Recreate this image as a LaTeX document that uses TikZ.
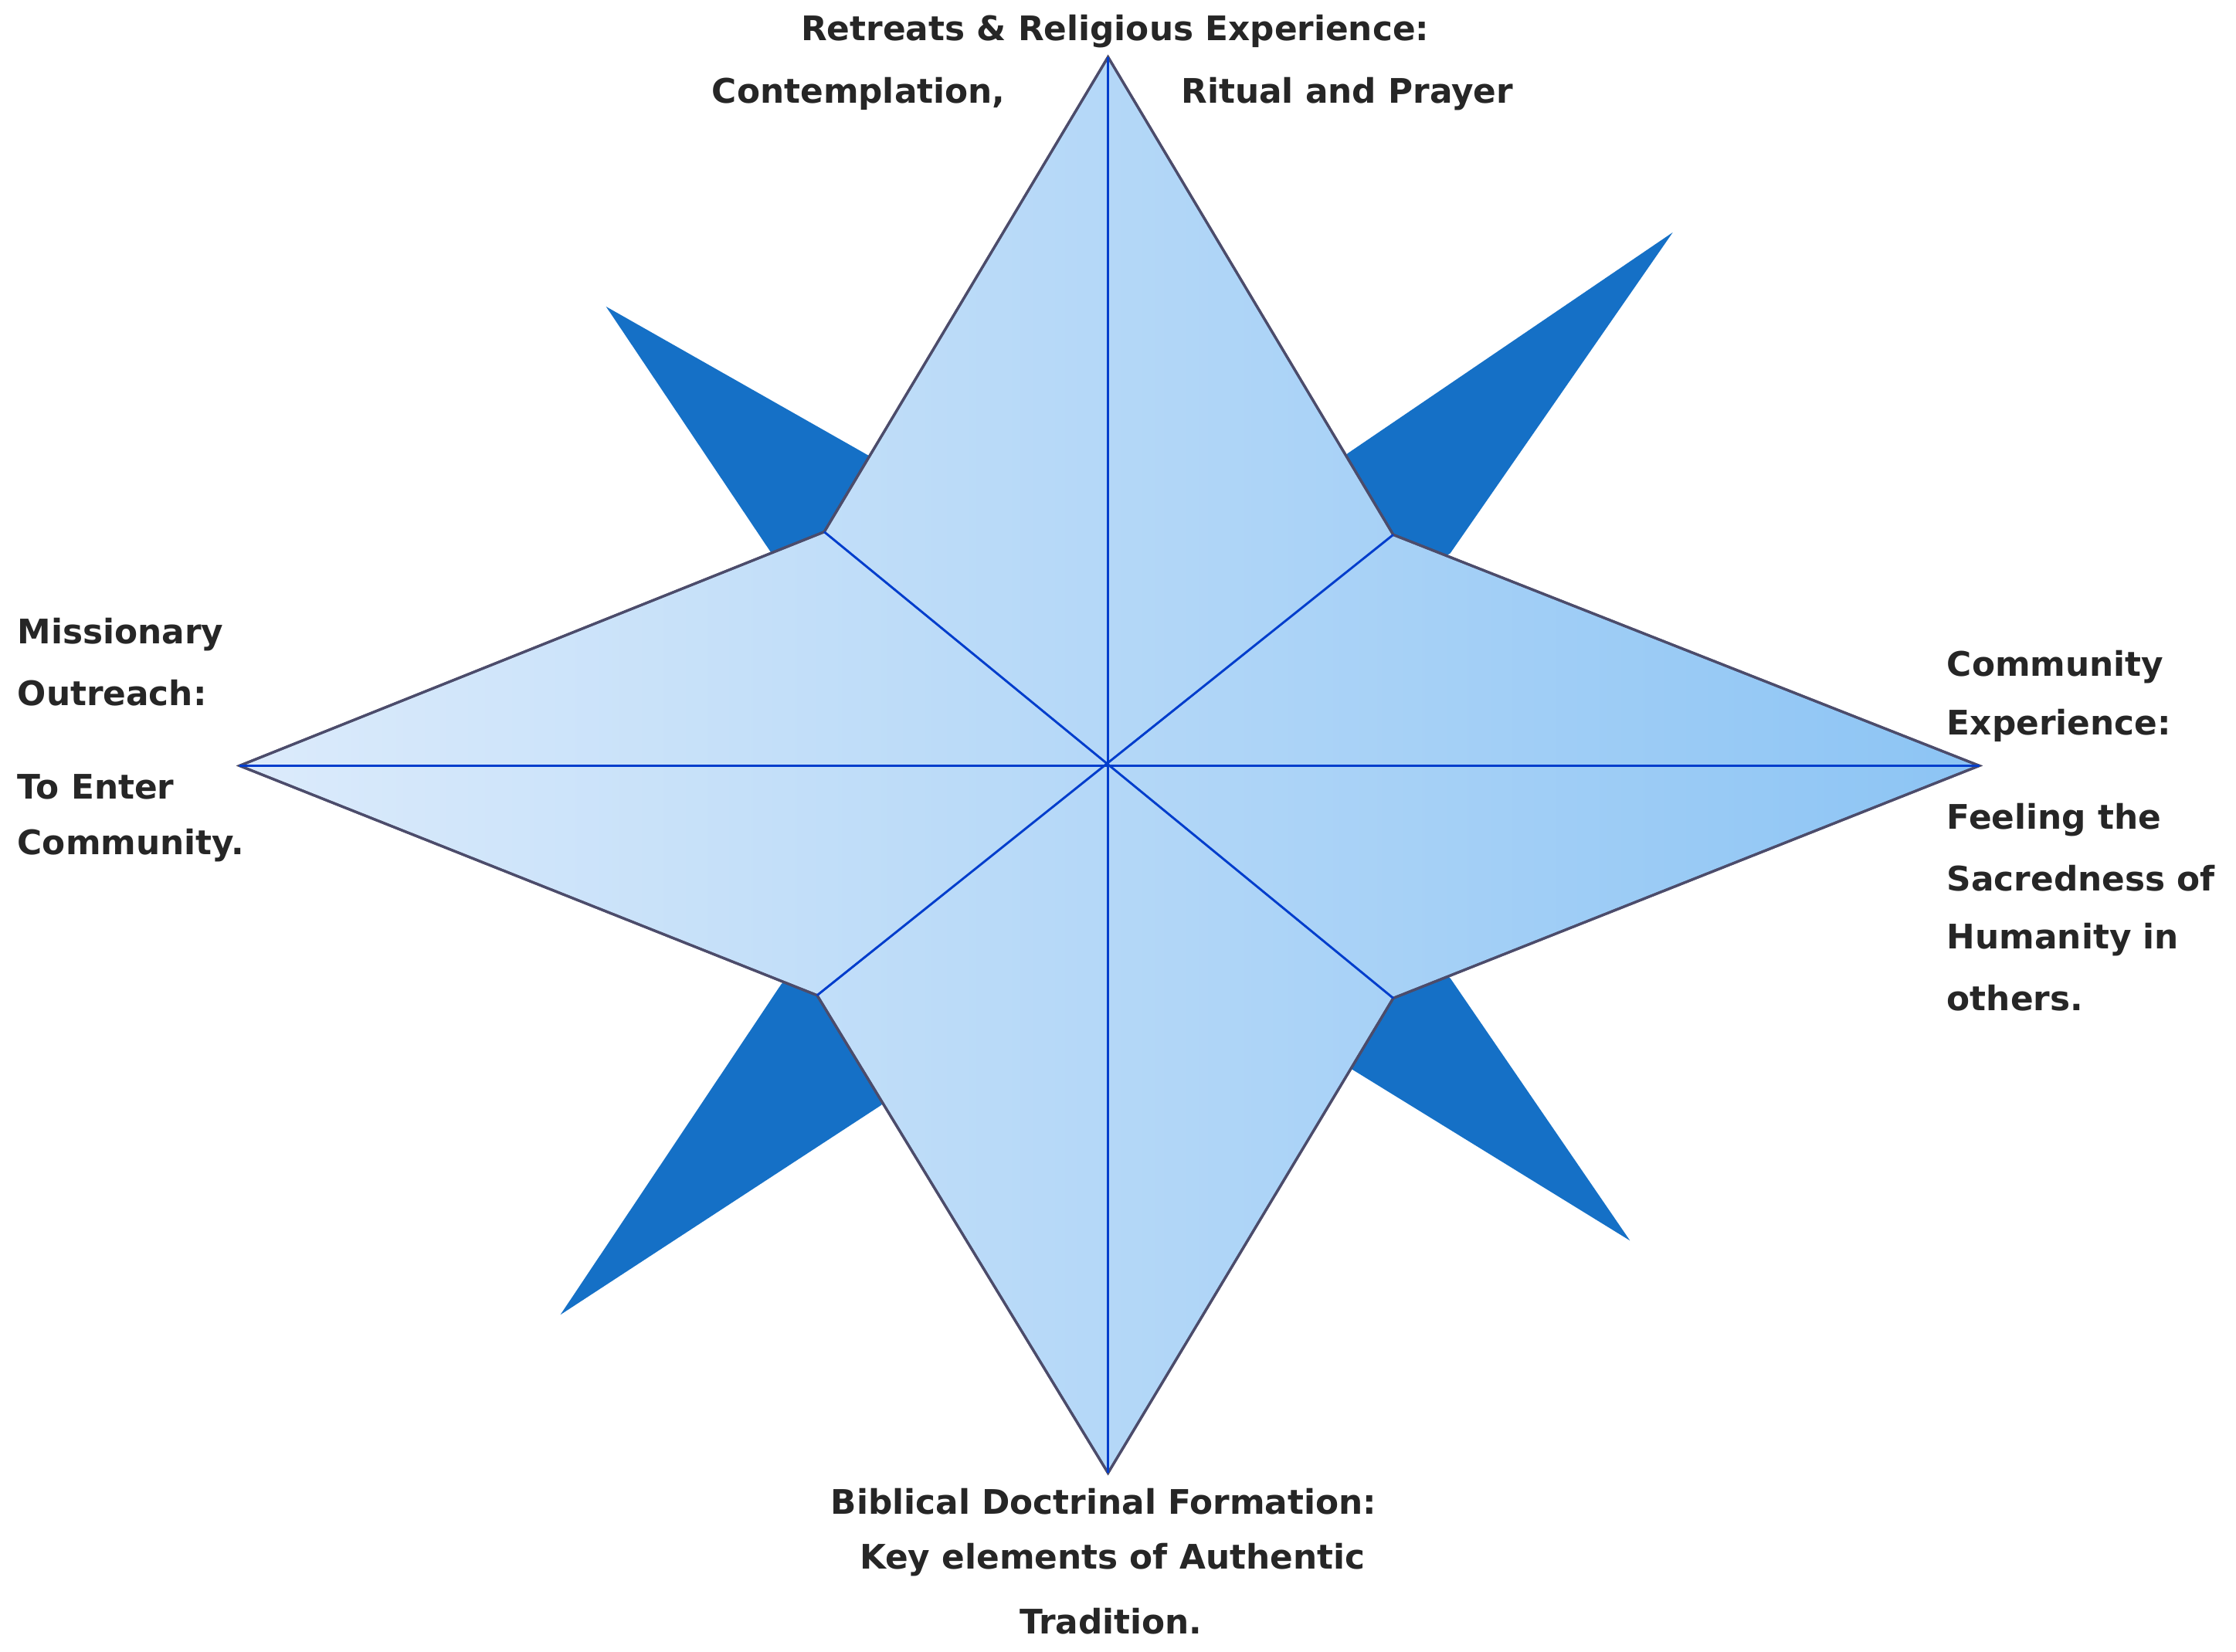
\documentclass[tikz,border=0pt]{standalone}
\usepackage{fontspec}
\setmainfont{DejaVu Sans}
\begin{document}
\begin{tikzpicture}[x=0.02cm,y=-0.02cm,
  lbl/.style={font=\bfseries\fontsize{13.5}{16}\selectfont,text=black!85,inner sep=0pt},
  dark/.style={fill=blue!55!cyan!70!black,draw=none},
  inner/.style={draw=blue!70!cyan!80!black,line width=0.9pt}]
\useasboundingbox (0,0) rectangle (1568,1158);
\coordinate (C) at (777,537);
\coordinate (T) at (777,40);\coordinate (B) at (777,1033);
\coordinate (L) at (168,537);\coordinate (R) at (1388,537);
\coordinate (NW) at (578,373);\coordinate (NE) at (977,375);
\coordinate (SW) at (573,698);\coordinate (SE) at (977,700);
\definecolor{spike}{HTML}{1570C6}
\fill[spike] (425,215) -- (610,320) -- (C) -- (541,388) -- cycle;
\fill[spike] (1173,163) -- (945,318) -- (C) -- (1017,388) -- cycle;
\fill[spike] (1143,870) -- (1017,686) -- (C) -- (945,748) -- cycle;
\fill[spike] (393,922) -- (548,690) -- (C) -- (618,775) -- cycle;
\definecolor{lc}{HTML}{DCEBFB}\definecolor{rc}{HTML}{8CC4F4}
\shade[left color=lc,right color=rc,draw=black!70!blue!40!gray,line width=1pt]
  (T) -- (NE) -- (R) -- (SE) -- (B) -- (SW) -- (L) -- (NW) -- cycle;
\draw[draw=black!70!blue!40!gray,line width=1pt] (T) -- (NE) -- (R) -- (SE) -- (B) -- (SW) -- (L) -- (NW) -- cycle;
\draw[inner] (T) -- (B); \draw[inner] (L) -- (R);
\draw[inner] (NW) -- (SE); \draw[inner] (NE) -- (SW);
\node[lbl] (t1) at (782,22) {Retreats \& Religious Experience:};
\node[lbl,anchor=west] (t2) at (499,66) {Contemplation,};
\node[lbl,anchor=west] (t3) at (828,66) {Ritual and Prayer};
\node[lbl,anchor=west] at (12,445) {Missionary};
\node[lbl,anchor=west] at (12,486) {Outreach:};
\node[lbl,anchor=west] at (12,552) {To Enter};
\node[lbl,anchor=west] at (12,593) {Community.};
\node[lbl,anchor=west] at (1365,468) {Community};
\node[lbl,anchor=west] at (1365,509) {Experience:};
\node[lbl,anchor=west] at (1365,575) {Feeling the};
\node[lbl,anchor=west] at (1365,616) {Sacredness of};
\node[lbl,anchor=west] at (1365,659) {Humanity in};
\node[lbl,anchor=west] at (1365,700) {others.};
\node[lbl] at (774,1053) {Biblical Doctrinal Formation:};
\node[lbl] at (780,1094) {Key elements of Authentic};
\node[lbl] at (779,1137) {Tradition.};
\end{tikzpicture}
\end{document}
